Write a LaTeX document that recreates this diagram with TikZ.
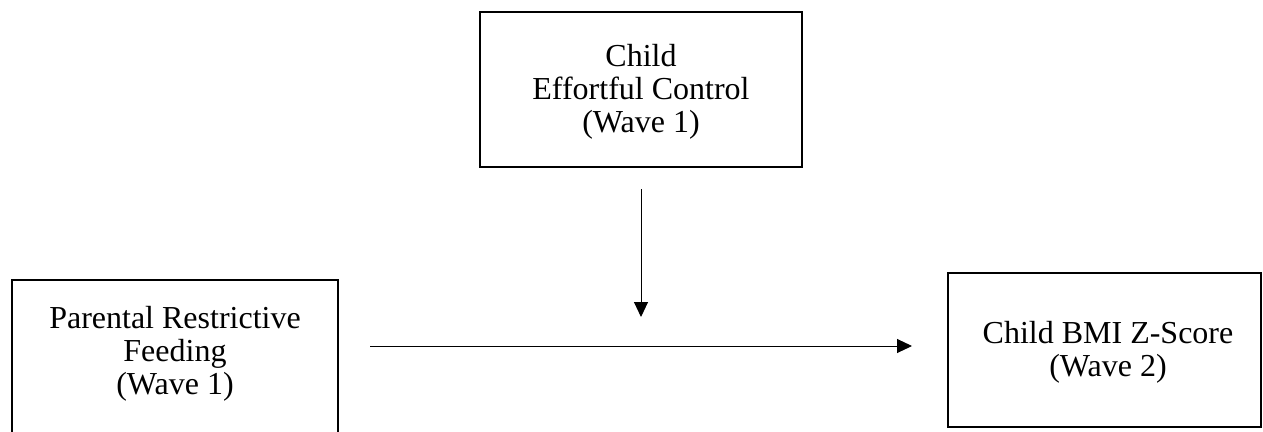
\documentclass[tikz,border=0pt]{standalone}
\usepackage{fontspec}
\setmainfont{Liberation Serif}
\usetikzlibrary{arrows.meta}
\begin{document}
\begin{tikzpicture}[x=1pt,y=-1pt,
  frame/.style={draw, line width=1.6pt, inner sep=0pt},
  label/.style={align=center, inner sep=0pt,
    font=\fontsize{32}{33}\selectfont},
  link/.style={line width=1pt, -{Triangle[length=15pt,width=14pt]}}]
\useasboundingbox (0,0) rectangle (1263,431);
% moderator
\node[frame, minimum width=322pt, minimum height=155pt] (ecbox) at (641,89.5) {};
\node[label] (ec) at (641,92) {Child\\Effortful Control\\(Wave 1)};
% predictor (runs past the lower edge)
\node[frame, minimum width=326pt, minimum height=160pt] (prbox) at (175,360) {};
\node[label] (pr) at (175,354) {Parental Restrictive\\Feeding\\(Wave 1)};
% outcome
\node[frame, minimum width=313pt, minimum height=154pt] (bmibox) at (1104.5,350) {};
\node[label] (bmi) at (1108,352) {Child BMI Z-Score\\(Wave 2)};
% path ends
\coordinate (vs) at (641,189);
\coordinate (ve) at (641,317);
\coordinate (hs) at (370,346);
\coordinate (he) at (912,346);
\draw[link] (vs) -- (ve);
\draw[link] (hs) -- (he);
\end{tikzpicture}
\end{document}
